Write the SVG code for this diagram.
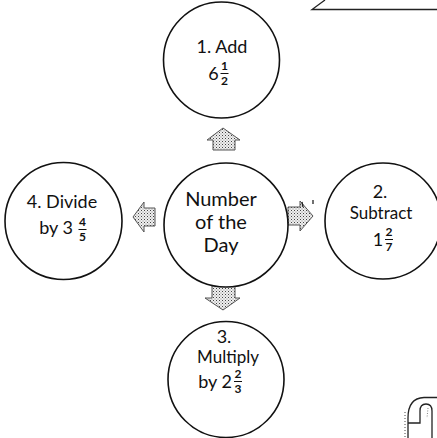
<svg xmlns="http://www.w3.org/2000/svg" width="437" height="438" viewBox="0 0 437 438">
  <defs>
    <!-- stippled fill for the block arrows -->
    <pattern id="stipple" width="3" height="3" patternUnits="userSpaceOnUse">
      <rect width="3" height="3" fill="#efefef"/>
      <rect x="0" y="0" width="1" height="1" fill="#444"/>
      <rect x="1.5" y="1.5" width="1" height="1" fill="#888"/>
    </pattern>
    <style>
      .node { fill: #fff; stroke: #111; stroke-width: 1.6; }
      .lbl { font-family: Lato, "Open Sans", sans-serif; fill: #111; text-anchor: middle; }
      .frac { font-family: Lato, "Open Sans", sans-serif; fill: #111; text-anchor: middle; font-size: 12px; font-weight: bold; }
      .bar { stroke: #111; stroke-width: 1; }
      .arrow { fill: url(#stipple); stroke: #555; stroke-width: 1; stroke-linejoin: miter; }
      .line { fill: none; stroke: #222; stroke-width: 1.3; }
    </style>
  </defs>

  <rect width="437" height="438" fill="#fff"/>

  <!-- callout edge at top right -->
  <g id="callout">
    <path class="line" d="M 325 0 L 312 9.5 L 437 9.5"/>
  </g>

  <!-- block arrows from the centre -->
  <g id="connectors">
    <polygon class="arrow" points="223,128 240,140 235,140 235,150 213,150 213,140 207,140"/>
    <polygon class="arrow" points="212,282 235,282 235,298 240,298 223,310 205,298 212,298"/>
    <polygon class="arrow" points="288,207 300,207 300,201 313,216 300,231 300,225 288,225"/>
    <polygon class="arrow" points="155,208 144,208 144,202 133,217 144,232 144,226 155,226"/>
    <path class="line" d="M 302 202 L 303 207 M 313 200 L 313 204" stroke-width="1"/>
  </g>

  <g id="center">
    <circle class="node" cx="226" cy="225" r="62"/>
    <text class="lbl" font-size="20" x="221" y="206">Number</text>
    <text class="lbl" font-size="20" x="221" y="229">of the</text>
    <text class="lbl" font-size="20" x="221" y="252">Day</text>
  </g>

  <g id="add">
    <circle class="node" cx="221.5" cy="60" r="58"/>
    <text class="lbl" font-size="18" x="222" y="53">1. Add</text>
    <text class="lbl" font-size="18" x="213.5" y="80">6</text>
    <text class="frac" x="224.5" y="70">1</text>
    <line class="bar" x1="220.5" y1="73.5" x2="228.5" y2="73.5"/>
    <text class="frac" x="224.5" y="84.5">2</text>
  </g>

  <g id="subtract">
    <circle class="node" cx="383" cy="221" r="58"/>
    <text class="lbl" font-size="18" x="380" y="198">2.</text>
    <text class="lbl" font-size="17" x="381" y="219">Subtract</text>
    <text class="lbl" font-size="18" x="378" y="246">1</text>
    <text class="frac" x="389" y="236">2</text>
    <line class="bar" x1="385" y1="239.5" x2="393" y2="239.5"/>
    <text class="frac" x="389" y="250.5">7</text>
  </g>

  <g id="multiply">
    <circle class="node" cx="226" cy="379.5" r="58"/>
    <text class="lbl" font-size="18" x="224" y="343">3.</text>
    <text class="lbl" font-size="17" x="228" y="363">Multiply</text>
    <text class="lbl" font-size="18" x="215" y="388">by 2</text>
    <text class="frac" x="238" y="378">2</text>
    <line class="bar" x1="234" y1="381.5" x2="242" y2="381.5"/>
    <text class="frac" x="238" y="392.5">3</text>
  </g>

  <g id="divide">
    <circle class="node" cx="63.5" cy="221" r="58.5"/>
    <text class="lbl" font-size="18" x="62" y="208">4. Divide</text>
    <text class="lbl" font-size="18" x="56" y="234">by 3</text>
    <text class="frac" x="82.5" y="226">4</text>
    <line class="bar" x1="78.5" y1="229.5" x2="86.5" y2="229.5"/>
    <text class="frac" x="82.5" y="240.5">5</text>
  </g>

  <!-- rolled page corner, bottom right -->
  <g id="scroll">
    <path class="line" d="M 408 438 L 408 418 Q 408 398 424 397.5 L 437 397.5"/>
    <path class="line" d="M 408 423 L 420 423 L 420 411 Q 420 404 426 404 Q 432 404 432 411 L 432 438"/>
    <path d="M 405 412 L 405 438" stroke="#444" stroke-width="1" stroke-dasharray="1 2"/>
    <path d="M 428 408 L 427 418" stroke="#666" stroke-width="0.8" stroke-dasharray="1 1.5"/>
  </g>
</svg>
